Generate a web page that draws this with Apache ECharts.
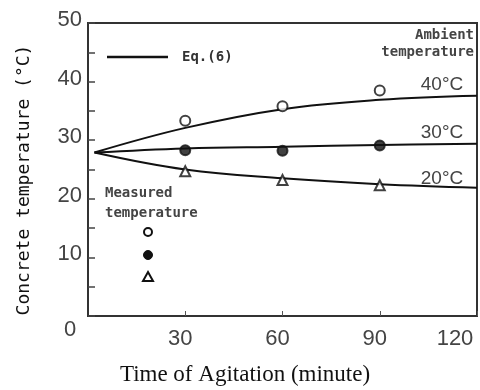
<!DOCTYPE html>
<html>
<head>
<meta charset="utf-8">
<title>Concrete temperature</title>
<script src="https://cdn.jsdelivr.net/npm/echarts@6/dist/echarts.min.js"></script>
<style>
  html, body { margin: 0; padding: 0; background: #fff; }
  #chart { width: 480px; height: 390px; }
</style>
</head>
<body>
<div id="chart"></div>
<script>
// curves from Eq.(6), one per ambient temperature
const timeEq = [2, 30, 60, 90, 120]
const eq40 = [27.9, 32.1, 35.3, 36.9, 37.6]
const eq30 = [27.9, 28.6, 28.9, 29.2, 29.4]
const eq20 = [27.9, 25.0, 23.5, 22.5, 21.9]

// measured temperatures
const timeMeas = [30, 60, 90]
const meas40 = [33.3, 35.8, 38.5]
const meas30 = [28.3, 28.2, 29.1]
const meas20 = [24.7, 23.2, 22.3]

const xTicks = [0, 30, 60, 90, 120]
const yTicks = [0, 10, 20, 30, 40, 50]

const pairs = (xs, ys) => xs.map((x, i) => [x, ys[i]])

const mono = 'DejaVu Sans Mono'
const sans = 'Liberation Sans'

const curve = (name, data) => ({
  name: name,
  type: 'line',
  data: pairs(timeEq, data),
  smooth: 0.4,
  showSymbol: false,
  lineStyle: { color: '#111', width: 2 },
  z: 2
})

const dots = (name, data, symbol, fill) => ({
  name: name,
  type: 'scatter',
  data: pairs(timeMeas, data),
  symbol: symbol,
  symbolSize: 10,
  itemStyle: { color: fill, borderColor: '#111', borderWidth: 2 },
  z: 3
})

const chart = echarts.init(document.getElementById('chart'))

chart.setOption({
  animation: false,
  grid: {
    left: 88, top: 23, right: 3, bottom: 74,
    show: true, borderColor: '#333', borderWidth: 2
  },
  xAxis: {
    type: 'value',
    min: xTicks[0],
    max: xTicks[xTicks.length - 1],
    interval: 30,
    axisLine: { lineStyle: { color: '#333', width: 2 } },
    axisTick: { inside: true, length: 5, lineStyle: { color: '#555' } },
    splitLine: { show: false },
    axisLabel: {
      showMinLabel: false,
      margin: 12,
      color: '#444',
      fontFamily: sans,
      fontSize: 22,
      formatter: v => v === 120 ? '{e|' + v + '}' : '{n|' + v + '}',
      rich: {
        n: { fontFamily: sans, fontSize: 22, color: '#444', padding: [0, 10, 0, 0] },
        e: { fontFamily: sans, fontSize: 22, color: '#444', padding: [0, 44, 0, 0] }
      }
    }
  },
  yAxis: {
    type: 'value',
    min: yTicks[0],
    max: yTicks[yTicks.length - 1],
    interval: 10,
    axisLine: { show: true, lineStyle: { color: '#333', width: 2 } },
    axisTick: { show: true, inside: true, length: 7, lineStyle: { color: '#444', width: 1.5 } },
    minorTick: { show: true, splitNumber: 2, length: 7, lineStyle: { color: '#444', width: 1.5 } },
    splitLine: { show: false },
    axisLabel: {
      showMinLabel: false,
      margin: 6,
      color: '#444',
      fontFamily: sans,
      fontSize: 22,
      verticalAlign: 'bottom',
      padding: [0, 0, -8, 0]
    }
  },
  graphic: [
    // origin label
    { type: 'text', x: 70, y: 330, style: { text: '0', font: '22px ' + sans, fill: '#444', align: 'center', verticalAlign: 'middle' } },
    // axis titles
    {
      type: 'text', x: 24, y: 180, rotation: Math.PI / 2,
      style: { text: 'Concrete temperature (°C)', font: '18px ' + mono, fill: '#111', align: 'center', verticalAlign: 'middle' }
    },
    { type: 'text', x: 245, y: 375, style: { text: 'Time of Agitation (minute)', font: '23px "Liberation Serif"', fill: '#111', align: 'center', verticalAlign: 'middle' } },
    // Eq.(6) key
    { type: 'line', shape: { x1: 107, y1: 57, x2: 168, y2: 57 }, style: { stroke: '#111', lineWidth: 2.5 } },
    { type: 'text', x: 182, y: 57, style: { text: 'Eq.(6)', font: 'bold 14px ' + mono, fill: '#333', verticalAlign: 'middle' } },
    // ambient labels
    { type: 'text', x: 474, y: 35, style: { text: 'Ambient', font: 'bold 14px ' + mono, fill: '#444', align: 'right', verticalAlign: 'middle' } },
    { type: 'text', x: 474, y: 52, style: { text: 'temperature', font: 'bold 14px ' + mono, fill: '#444', align: 'right', verticalAlign: 'middle' } },
    { type: 'text', x: 442, y: 85, style: { text: '40°C', font: '19px ' + sans, fill: '#444', align: 'center', verticalAlign: 'middle' } },
    { type: 'text', x: 442, y: 133, style: { text: '30°C', font: '19px ' + sans, fill: '#444', align: 'center', verticalAlign: 'middle' } },
    { type: 'text', x: 442, y: 179, style: { text: '20°C', font: '19px ' + sans, fill: '#444', align: 'center', verticalAlign: 'middle' } },
    // measured key
    { type: 'text', x: 105, y: 193, style: { text: 'Measured', font: 'bold 14px ' + mono, fill: '#444', verticalAlign: 'middle' } },
    { type: 'text', x: 105, y: 213, style: { text: 'temperature', font: 'bold 14px ' + mono, fill: '#444', verticalAlign: 'middle' } },
    { type: 'circle', shape: { cx: 148, cy: 232, r: 4 }, style: { fill: '#fff', stroke: '#111', lineWidth: 2 } },
    { type: 'circle', shape: { cx: 148, cy: 255, r: 4.5 }, style: { fill: '#111', stroke: '#111', lineWidth: 1 } },
    { type: 'polygon', shape: { points: [[148, 272], [153, 281], [143, 281]] }, style: { fill: '#fff', stroke: '#111', lineWidth: 2 } }
  ],
  series: [
    curve('Eq.(6) 40°C', eq40),
    curve('Eq.(6) 30°C', eq30),
    curve('Eq.(6) 20°C', eq20),
    dots('Measured 40°C', meas40, 'circle', '#fff'),
    dots('Measured 30°C', meas30, 'circle', '#111'),
    dots('Measured 20°C', meas20, 'triangle', '#fff')
  ]
})
</script>
</body>
</html>
